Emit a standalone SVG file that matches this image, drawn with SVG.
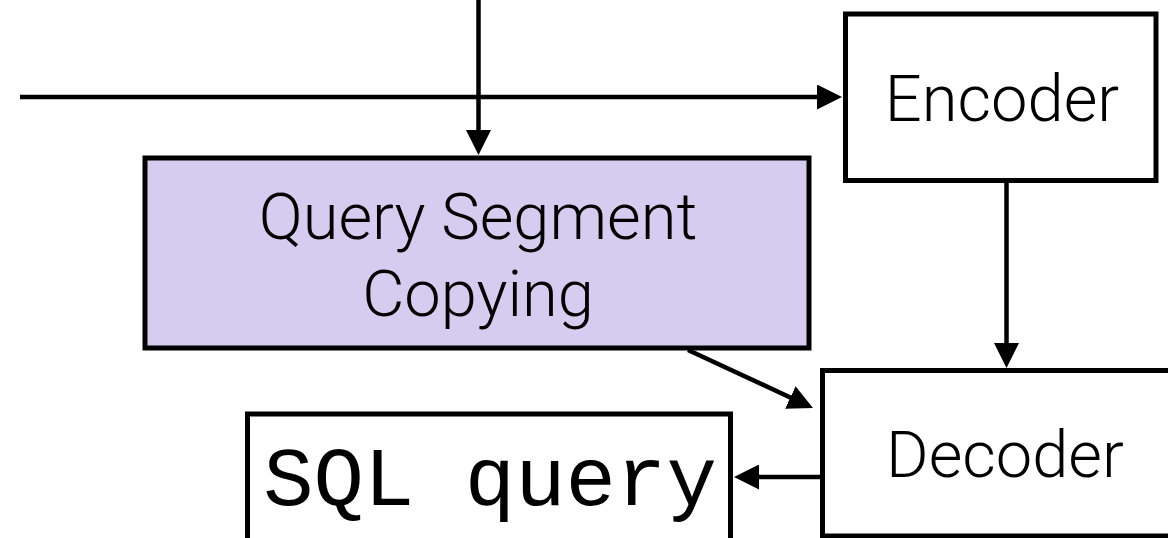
<svg xmlns="http://www.w3.org/2000/svg" width="1168" height="538" viewBox="0 0 1168 538">
  <style>
    .box { stroke: #000; stroke-width: 5; fill: #fff; }
    .purple { fill: #d5ccf0; }
    .lbl { font-family: Roboto, "Liberation Sans", sans-serif; font-weight: 300; font-size: 65px; fill: #000; text-anchor: middle; }
    .mono { font-family: "Liberation Mono", "DejaVu Sans Mono", monospace; font-size: 84px; fill: #000; text-anchor: middle; }
    .conn { stroke: #000; stroke-width: 4.5; fill: none; }
  </style>
  <defs>
    <marker id="arrow" markerUnits="userSpaceOnUse" markerWidth="25" markerHeight="25" viewBox="0 0 25 25" refX="10" refY="12.5" orient="auto">
      <path d="M0,0 L25,12.5 L0,25 z" fill="#000"/>
    </marker>
  </defs>
  <rect width="1168" height="538" fill="#fff"/>

  <g id="encoder">
    <rect class="box" x="845.5" y="14" width="310.5" height="166.5"/>
    <text class="lbl" x="1002" y="121">Encoder</text>
  </g>

  <g id="query-segment-copying">
    <rect class="box purple" x="145" y="158" width="664" height="190"/>
    <text class="lbl" x="478" y="239">Query Segment</text>
    <text class="lbl" x="478" y="316">Copying</text>
  </g>

  <g id="decoder">
    <rect class="box" x="822.5" y="370.5" width="370" height="165.5"/>
    <text class="lbl" x="1005" y="477">Decoder</text>
  </g>

  <g id="sql-query">
    <rect class="box" x="247.5" y="414" width="483" height="200"/>
    <text class="mono" x="490" y="505">SQL query</text>
  </g>

  <g id="connectors">
    <line class="conn" x1="478.5" y1="0" x2="478.5" y2="140" marker-end="url(#arrow)"/>
    <line class="conn" x1="20" y1="97" x2="827" y2="97" marker-end="url(#arrow)"/>
    <line class="conn" x1="1006.5" y1="182" x2="1006.5" y2="353" marker-end="url(#arrow)"/>
    <line class="conn" x1="820" y1="477" x2="749" y2="477" marker-end="url(#arrow)"/>
    <line class="conn" x1="688" y1="350" x2="799.4" y2="401.7" marker-end="url(#arrow)"/>
  </g>
</svg>
